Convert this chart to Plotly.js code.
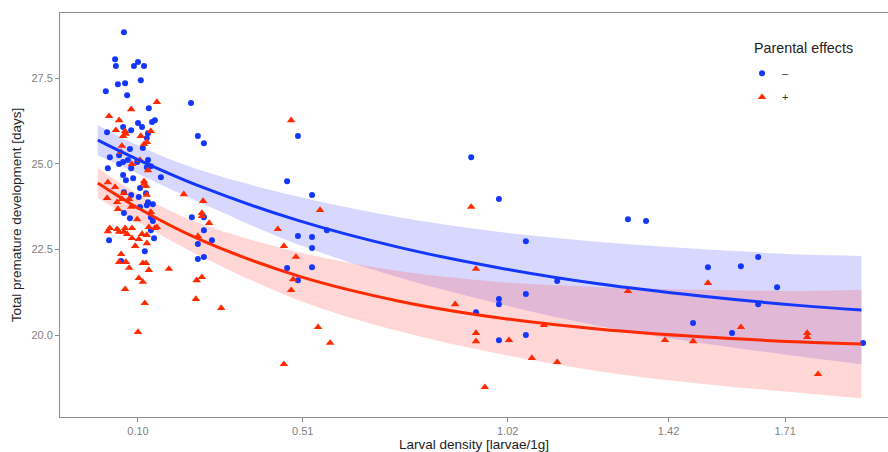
<!DOCTYPE html>
<html>
<head>
<meta charset="utf-8">
<script src="https://cdn.plot.ly/plotly-3.0.1.min.js"></script>
<style>html,body{margin:0;padding:0;background:#fff}#chart{width:888px;height:452px}</style>
</head>
<body>
<div id="chart"></div>
<script>
// Tick labels on the x axis
const xTickVals = [0.10, 0.51, 1.02, 1.42, 1.71];
const xTickText = ["0.10", "0.51", "1.02", "1.42", "1.71"];

// Parental effects "–" (blue circles)
const minusX = [0.065,0.043,0.045,0.100,0.090,0.115,0.050,0.068,0.107,0.020,0.073,0.127,0.142,0.135,0.110,0.100,0.083,0.063,0.023,0.125,0.122,0.080,0.112,0.030,0.053,0.125,0.053,0.063,0.025,0.075,0.098,0.083,0.122,0.132,0.157,0.063,0.070,0.088,0.105,0.083,0.102,0.065,0.120,0.125,0.137,0.122,0.105,0.065,0.080,0.132,0.137,0.132,0.140,0.028,0.117,0.058,
  0.232,0.249,0.264,0.234,0.264,0.264,0.284,0.249,0.249,0.264,
  0.498,0.471,0.533,0.570,0.498,0.533,0.533,0.471,0.533,0.498,
  0.929,0.998,1.065,1.143,0.998,0.998,1.065,0.941,0.998,1.065,
  1.319,1.364,1.518,1.600,1.643,1.690,1.643,1.481,1.578,1.904];
const minusY = [28.84,28.05,27.85,27.97,27.85,27.85,27.32,27.35,27.44,27.12,27.00,26.62,26.27,26.22,26.07,26.19,25.98,26.07,25.92,25.89,25.75,25.43,25.46,25.19,25.25,25.11,24.99,25.05,24.87,25.11,25.05,24.87,24.90,24.93,24.61,24.67,24.52,24.58,24.29,24.09,24.03,24.17,24.14,23.88,23.82,23.79,23.74,23.56,23.41,23.44,23.33,23.06,22.83,22.77,22.45,22.16,
  26.77,25.81,25.60,23.44,23.44,23.06,22.77,22.66,22.22,22.28,
  25.81,24.49,24.09,23.06,22.89,22.86,22.54,21.96,21.98,21.60,
  25.19,23.97,22.74,21.58,21.05,20.90,21.20,20.67,19.85,20.00,
  23.38,23.33,21.98,22.01,22.28,21.40,20.90,20.35,20.06,19.77];

// Parental effects "+" (red triangles)
const plusX = [0.147,0.083,0.028,0.053,0.045,0.068,0.063,0.107,0.132,0.115,0.122,0.060,0.105,0.085,0.125,0.070,0.058,0.115,0.115,0.120,0.025,0.043,0.023,0.065,0.122,0.060,0.078,0.048,0.083,0.050,0.098,0.132,0.142,0.030,0.048,0.068,0.085,0.025,0.053,0.065,0.073,0.110,0.122,0.085,0.102,0.122,0.093,0.147,0.127,0.058,0.053,0.070,0.078,0.112,0.120,0.127,0.102,0.112,0.068,0.117,0.100,
  0.177,0.214,0.262,0.259,0.259,0.277,0.249,0.246,0.259,0.244,0.307,
  0.481,0.553,0.448,0.463,0.493,0.486,0.481,0.548,0.578,0.463,
  0.929,0.941,0.889,1.110,0.941,0.941,1.023,1.080,1.143,0.963,
  1.319,1.518,1.600,1.411,1.481,1.765,1.765,1.792];
const plusY = [26.80,26.59,26.39,26.27,25.98,25.95,25.81,25.81,25.95,25.57,25.63,25.52,25.11,24.99,24.81,25.87,25.34,24.49,24.41,24.35,24.46,24.32,24.00,24.14,24.09,23.97,23.97,23.88,23.74,23.68,23.38,23.59,23.12,23.12,23.09,23.12,23.12,23.03,23.01,23.01,22.95,22.95,22.92,22.83,22.80,22.68,22.60,23.15,23.15,22.36,22.13,22.13,21.96,22.10,22.10,21.90,21.66,21.55,21.34,20.93,20.09,
  21.93,24.11,23.91,23.56,23.47,23.27,22.89,21.60,21.69,21.05,20.79,
  26.27,23.65,23.09,22.60,22.28,21.63,21.31,20.23,19.77,19.15,
  23.74,21.93,20.90,20.29,20.06,19.82,19.85,19.33,19.21,18.48,
  21.28,21.52,20.23,19.85,19.82,20.06,19.94,18.86];

// Fitted curves and confidence bands
const fitX    = [0, 0.1, 0.25, 0.5, 0.75, 1.0, 1.25, 1.5, 1.75, 1.9];
const minusFit = [25.69, 25.12, 24.36, 23.34, 22.56, 21.96, 21.49, 21.14, 20.86, 20.73];
const minusHi  = [26.13, 25.53, 24.83, 24.04, 23.44, 23.01, 22.72, 22.51, 22.35, 22.31];
const minusLo  = [25.25, 24.71, 23.89, 22.64, 21.68, 20.91, 20.26, 19.77, 19.37, 19.15];
const plusFit  = [24.44, 23.71, 22.81, 21.72, 20.99, 20.50, 20.17, 19.95, 19.80, 19.74];
const plusHi   = [24.88, 24.12, 23.28, 22.42, 21.87, 21.55, 21.40, 21.32, 21.29, 21.32];
const plusLo   = [24.00, 23.30, 22.34, 21.02, 20.11, 19.45, 18.94, 18.58, 18.31, 18.16];

const legendTitle = 'Parental effects';

const BLUE = '#1437ff', RED = '#ff2a00';
const BLUE_FILL = 'rgba(70,70,255,0.21)', RED_FILL = 'rgba(255,80,80,0.23)';
const FONT = 'Liberation Sans, Arial, sans-serif';

const traces = [
  {x: fitX, y: minusLo, mode: 'lines', line: {width: 0, shape: 'spline'}, showlegend: false, hoverinfo: 'skip'},
  {x: fitX, y: minusHi, mode: 'lines', line: {width: 0, shape: 'spline'}, fill: 'tonexty', fillcolor: BLUE_FILL, showlegend: false, hoverinfo: 'skip'},
  {x: fitX, y: plusLo, mode: 'lines', line: {width: 0, shape: 'spline'}, showlegend: false, hoverinfo: 'skip'},
  {x: fitX, y: plusHi, mode: 'lines', line: {width: 0, shape: 'spline'}, fill: 'tonexty', fillcolor: RED_FILL, showlegend: false, hoverinfo: 'skip'},
  {x: minusX, y: minusY, mode: 'markers', name: '–', legendgroup: 'a',
   marker: {symbol: 'circle', size: 6, color: BLUE}},
  {x: plusX, y: plusY, mode: 'markers', name: '+', legendgroup: 'b',
   marker: {symbol: 'triangle-up', size: 7.5, color: RED}},
  {x: fitX, y: minusFit, mode: 'lines', line: {color: BLUE, width: 3, shape: 'spline'}, showlegend: false},
  {x: fitX, y: plusFit, mode: 'lines', line: {color: RED, width: 3, shape: 'spline'}, showlegend: false}
];

const layout = {
  width: 888, height: 452,
  margin: {l: 60, r: 0, t: 13, b: 35},
  paper_bgcolor: '#fff', plot_bgcolor: '#fff',
  font: {family: FONT, color: '#333'},
  xaxis: {
    range: [-0.094, 1.966], tickvals: xTickVals, ticktext: xTickText,
    showgrid: false, zeroline: false, showline: true, mirror: true,
    linecolor: '#8c8c8c', linewidth: 1, ticks: 'outside', ticklen: 4, tickcolor: '#8c8c8c',
    tickfont: {size: 11, color: '#7f7f7f'},
    title: {text: 'Larval density [larvae/1g]', font: {size: 13.5, color: '#222'}, standoff: 6}
  },
  yaxis: {
    range: [17.61, 29.40], tickvals: [20, 22.5, 25, 27.5], ticktext: ['20.0', '22.5', '25.0', '27.5'],
    showgrid: false, zeroline: false, showline: true, mirror: false,
    linecolor: '#8c8c8c', linewidth: 1, ticks: 'outside', ticklen: 4, tickcolor: '#8c8c8c',
    tickfont: {size: 11, color: '#7f7f7f'},
    title: {text: 'Total premature development [days]', font: {size: 13.5, color: '#222'}, standoff: 6}
  },
  legend: {
    x: 0.8237, y: 0.887, xanchor: 'left', yanchor: 'top',
    bgcolor: 'rgba(0,0,0,0)', traceorder: 'grouped', tracegroupgap: 5,
    font: {size: 11, color: '#333'}
  },
  annotations: [{
    text: legendTitle, xref: 'paper', yref: 'paper', x: 0.8357, y: 0.913,
    xanchor: 'left', yanchor: 'middle', showarrow: false,
    font: {size: 14.3, color: '#222', family: FONT}
  }],
  showlegend: true
};

Plotly.newPlot('chart', traces, layout, {displayModeBar: false, staticPlot: true});
</script>
</body>
</html>
